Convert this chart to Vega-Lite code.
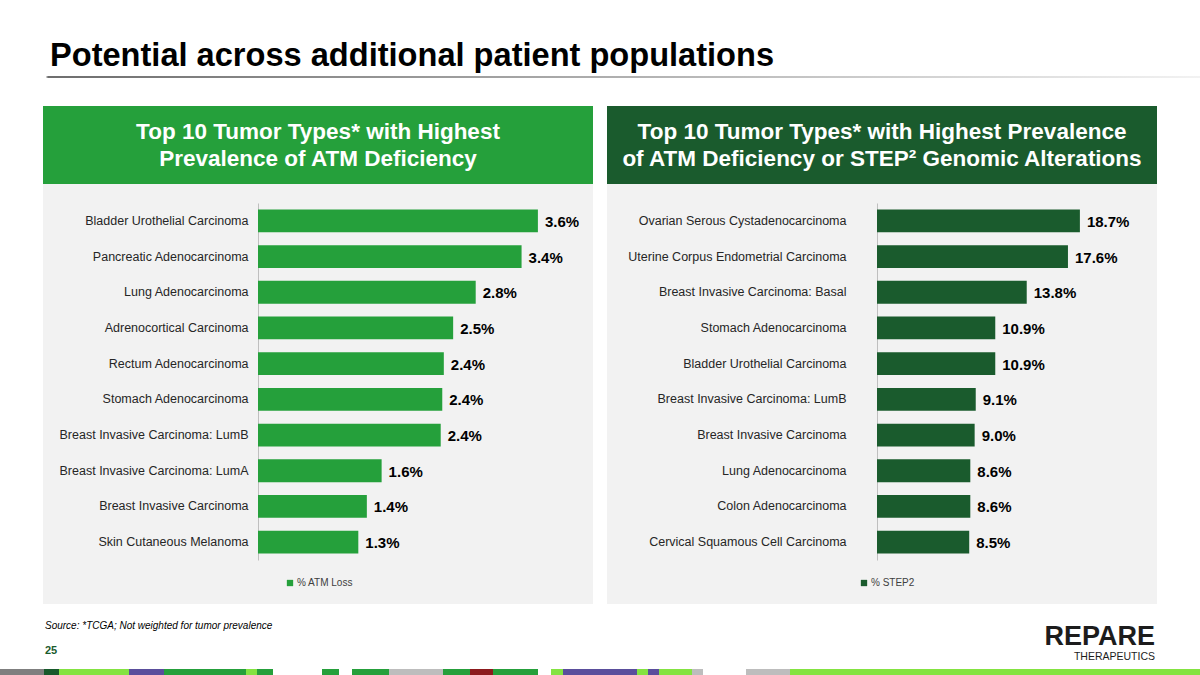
{
  "$schema": "https://vega.github.io/schema/vega-lite/v6.json",
  "background": "white",
  "padding": {"left": 0, "top": 40, "right": 0, "bottom": 0},
  "spacing": 0,
  "config": {"view": {"stroke": null}, "font": "Liberation Sans", "concat": {"spacing": 0}},
  "resolve": {"scale": {"color": "independent"}, "legend": {"color": "independent"}},
  "vconcat": [
    {
      "width": 1200,
      "height": 2,
      "title": {"text": "Potential across additional patient populations", "anchor": "start", "dx": 50, "fontSize": 32.6, "fontWeight": "bold", "color": "#000000", "offset": 3, "font": "Liberation Sans"},
      "data": {"values": [{"part": "title rule"}]},
      "mark": {"type": "rect", "color": {"gradient": "linear", "x1": 0, "x2": 1, "y1": 0, "y2": 0, "stops": [{"offset": 0, "color": "#ffffff"}, {"offset": 0.038, "color": "#ffffff"}, {"offset": 0.04, "color": "#6e6e6e"}, {"offset": 1, "color": "#f2f2f2"}]}},
      "encoding": {}
    },
    {
      "width": 1200,
      "height": 28,
      "data": {"values": []},
      "mark": "rect",
      "encoding": {}
    },
    {
      "hconcat": [
        {
          "width": 29,
          "height": 1,
          "data": {"values": []},
          "mark": "rect",
          "encoding": {}
        },
        {
          "vconcat": [
            {
              "width": 550,
              "height": 78,
              "view": {"fill": "#25a03b", "stroke": null},
              "data": {"values": [{"heading": "Top 10 Tumor Types* with Highest\nPrevalence of ATM Deficiency"}]},
              "mark": {"type": "text", "lineBreak": "\n", "lineHeight": 27, "fontSize": 22.5, "fontWeight": "bold", "color": "#ffffff", "align": "center", "baseline": "middle", "dy": -13},
              "encoding": {"text": {"field": "heading", "type": "nominal"}}
            },
            {
              "width": 550,
              "height": 420,
              "view": {"fill": "#f2f2f2", "stroke": null},
              "data": {"values": [
                {"tumor": "Bladder Urothelial Carcinoma", "share": 0.036},
                {"tumor": "Pancreatic Adenocarcinoma", "share": 0.0339},
                {"tumor": "Lung Adenocarcinoma", "share": 0.028},
                {"tumor": "Adrenocortical Carcinoma", "share": 0.0251},
                {"tumor": "Rectum Adenocarcinoma", "share": 0.0239},
                {"tumor": "Stomach Adenocarcinoma", "share": 0.0237},
                {"tumor": "Breast Invasive Carcinoma: LumB", "share": 0.0235},
                {"tumor": "Breast Invasive Carcinoma: LumA", "share": 0.0159},
                {"tumor": "Breast Invasive Carcinoma", "share": 0.014},
                {"tumor": "Skin Cutaneous Melanoma", "share": 0.0129}
              ]},
              "encoding": {
                "y": {"field": "tumor", "type": "nominal", "sort": null,
                  "scale": {"range": [19, 376], "paddingInner": 0.36, "paddingOuter": 0.18},
                  "axis": {"title": null, "offset": -215, "ticks": false, "grid": false, "domainColor": "#bfbfbf", "domainWidth": 1, "labelPadding": 10, "labelFontSize": 12.5, "labelColor": "#262626", "labelLimit": 320, "labelFont": "Liberation Sans"}},
                "x": {"field": "share", "type": "quantitative", "scale": {"domain": [0, 0.04], "range": [215, 526], "nice": false}, "axis": null}
              },
              "layer": [
                {
                  "mark": {"type": "bar"},
                  "encoding": {
                    "color": {"datum": "% ATM Loss", "type": "nominal", "scale": {"range": ["#25a03b"]},
                      "legend": {"title": null, "orient": "none", "legendX": 242, "legendY": 472, "symbolType": "square", "symbolSize": 40, "symbolStrokeWidth": 0, "labelFontSize": 10, "labelColor": "#404040", "labelOffset": 2, "padding": 0, "labelFont": "Liberation Sans"}}
                  }
                },
                {
                  "mark": {"type": "text", "align": "left", "baseline": "middle", "dx": 7, "dy": 1, "fontSize": 15, "fontWeight": "bold", "color": "#000000"},
                  "encoding": {"text": {"field": "share", "type": "quantitative", "format": ".1%"}}
                }
              ]
            }
          ]
        },
        {
          "vconcat": [
            {
              "width": 550,
              "height": 78,
              "view": {"fill": "#1a5b2d", "stroke": null},
              "data": {"values": [{"heading": "Top 10 Tumor Types* with Highest Prevalence\nof ATM Deficiency or STEP² Genomic Alterations"}]},
              "mark": {"type": "text", "lineBreak": "\n", "lineHeight": 27, "fontSize": 22.5, "fontWeight": "bold", "color": "#ffffff", "align": "center", "baseline": "middle", "dy": -13},
              "encoding": {"text": {"field": "heading", "type": "nominal"}}
            },
            {
              "width": 550,
              "height": 420,
              "view": {"fill": "#f2f2f2", "stroke": null},
              "data": {"values": [
                {"tumor": "Ovarian Serous Cystadenocarcinoma", "share": 0.187},
                {"tumor": "Uterine Corpus Endometrial Carcinoma", "share": 0.176},
                {"tumor": "Breast Invasive Carcinoma: Basal", "share": 0.138},
                {"tumor": "Stomach Adenocarcinoma", "share": 0.109},
                {"tumor": "Bladder Urothelial Carcinoma", "share": 0.109},
                {"tumor": "Breast Invasive Carcinoma: LumB", "share": 0.091},
                {"tumor": "Breast Invasive Carcinoma", "share": 0.09},
                {"tumor": "Lung Adenocarcinoma", "share": 0.086},
                {"tumor": "Colon Adenocarcinoma", "share": 0.086},
                {"tumor": "Cervical Squamous Cell Carcinoma", "share": 0.085}
              ]},
              "encoding": {
                "y": {"field": "tumor", "type": "nominal", "sort": null,
                  "scale": {"range": [19, 376], "paddingInner": 0.36, "paddingOuter": 0.18},
                  "axis": {"title": null, "offset": -270, "ticks": false, "grid": false, "domainColor": "#bfbfbf", "domainWidth": 1, "labelPadding": 31, "labelFontSize": 12.5, "labelColor": "#262626", "labelLimit": 320, "labelFont": "Liberation Sans"}},
                "x": {"field": "share", "type": "quantitative", "scale": {"domain": [0, 0.2], "range": [270, 487], "nice": false}, "axis": null}
              },
              "layer": [
                {
                  "mark": {"type": "bar"},
                  "encoding": {
                    "color": {"datum": "% STEP2", "type": "nominal", "scale": {"range": ["#1a5b2d"]},
                      "legend": {"title": null, "orient": "none", "legendX": 252, "legendY": 472, "symbolType": "square", "symbolSize": 40, "symbolStrokeWidth": 0, "labelFontSize": 10, "labelColor": "#404040", "labelOffset": 2, "padding": 0, "labelFont": "Liberation Sans"}}
                  }
                },
                {
                  "mark": {"type": "text", "align": "left", "baseline": "middle", "dx": 7, "dy": 1, "fontSize": 15, "fontWeight": "bold", "color": "#000000"},
                  "encoding": {"text": {"field": "share", "type": "quantitative", "format": ".1%"}}
                }
              ]
            }
          ]
        }
      ],
      "spacing": 14,
      "resolve": {"scale": {"color": "independent"}, "legend": {"color": "independent"}}
    },
    {
      "width": 1200,
      "height": 17,
      "data": {"values": []},
      "mark": "rect",
      "encoding": {}
    },
    {
      "hconcat": [
        {
          "width": 1043,
          "height": 1,
          "title": {"text": "Source: *TCGA; Not weighted for tumor prevalence", "subtitle": "25", "anchor": "start", "dx": 45, "fontSize": 10, "fontStyle": "italic", "fontWeight": "normal", "color": "#000000", "subtitleFontSize": 11, "subtitleFontWeight": "bold", "subtitleColor": "#1a5b2d", "subtitlePadding": 14, "offset": 2, "font": "Liberation Sans", "subtitleFont": "Liberation Sans"},
          "data": {"values": []},
          "mark": "rect",
          "encoding": {}
        },
        {
          "width": 112,
          "height": 11,
          "data": {"values": [{"brand": "REPARE", "line": "THERAPEUTICS"}]},
          "layer": [
            {
              "mark": {"type": "text", "align": "right", "baseline": "middle", "dy": -27, "fontSize": 27, "fontWeight": "bold", "color": "#1c1c1c"},
              "encoding": {"x": {"value": "width"}, "text": {"field": "brand", "type": "nominal"}}
            },
            {
              "mark": {"type": "text", "align": "right", "baseline": "middle", "dy": -7, "fontSize": 10.5, "color": "#1c1c1c"},
              "encoding": {"x": {"value": "width"}, "text": {"field": "line", "type": "nominal"}}
            }
          ]
        }
      ],
      "spacing": 0
    },
    {
      "width": 1200,
      "height": 7,
      "data": {"values": [
        {"seg": 1, "kind": "gray", "len": 44},
        {"seg": 2, "kind": "dark green", "len": 15},
        {"seg": 3, "kind": "lime", "len": 70},
        {"seg": 4, "kind": "purple", "len": 35},
        {"seg": 5, "kind": "green", "len": 82},
        {"seg": 6, "kind": "lime", "len": 11},
        {"seg": 7, "kind": "green", "len": 16},
        {"seg": 8, "kind": "blank", "len": 49},
        {"seg": 9, "kind": "green", "len": 17},
        {"seg": 10, "kind": "blank", "len": 13},
        {"seg": 11, "kind": "green", "len": 37},
        {"seg": 12, "kind": "silver", "len": 54},
        {"seg": 13, "kind": "green", "len": 27},
        {"seg": 14, "kind": "red", "len": 23},
        {"seg": 15, "kind": "green", "len": 45},
        {"seg": 16, "kind": "blank", "len": 13},
        {"seg": 17, "kind": "lime", "len": 12},
        {"seg": 18, "kind": "purple", "len": 74},
        {"seg": 19, "kind": "lime", "len": 11},
        {"seg": 20, "kind": "purple", "len": 11},
        {"seg": 21, "kind": "lime", "len": 33},
        {"seg": 22, "kind": "silver", "len": 11},
        {"seg": 23, "kind": "blank", "len": 43},
        {"seg": 24, "kind": "silver", "len": 44},
        {"seg": 25, "kind": "lime", "len": 410}
      ]},
      "mark": {"type": "bar", "height": 7},
      "encoding": {
        "x": {"field": "len", "type": "quantitative", "stack": "zero", "scale": {"domain": [0, 1200], "nice": false}, "axis": null},
        "color": {"field": "kind", "type": "nominal", "scale": {"domain": ["gray", "dark green", "lime", "purple", "green", "blank", "silver", "red"], "range": ["#7f7f7f", "#17592b", "#84e341", "#5a4e9c", "#25a03b", "#ffffff", "#bdbdbd", "#8c1a1d"]}, "legend": null},
        "order": {"field": "seg", "type": "quantitative"}
      }
    }
  ]
}
